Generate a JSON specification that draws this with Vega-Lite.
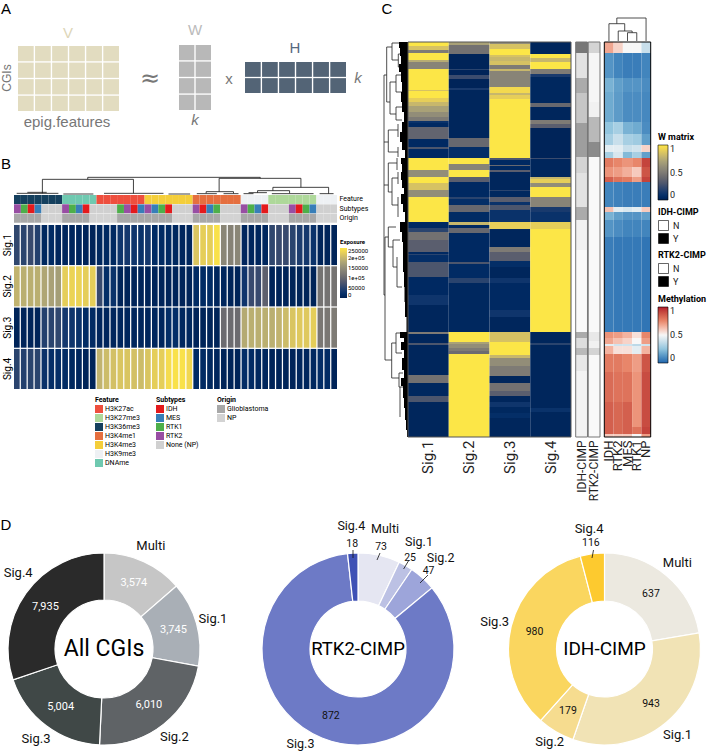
{"$schema":"https://vega.github.io/schema/vega-lite/v6.json","padding":0,"background":"white","spacing":0,"bounds":"flush",
"config":{"view":{"stroke":null},"font":"Roboto","text":{"font":"Roboto"},"axis":{"labelFont":"Roboto","grid":false,"ticks":false,"domain":false,"title":null}},
"datasets":{
"cells":[{"m":"V","col":1,"row":1},{"m":"V","col":2,"row":1},{"m":"V","col":3,"row":1},{"m":"V","col":4,"row":1},{"m":"V","col":5,"row":1},{"m":"V","col":6,"row":1},{"m":"V","col":1,"row":2},{"m":"V","col":2,"row":2},{"m":"V","col":3,"row":2},{"m":"V","col":4,"row":2},{"m":"V","col":5,"row":2},{"m":"V","col":6,"row":2},{"m":"V","col":1,"row":3},{"m":"V","col":2,"row":3},{"m":"V","col":3,"row":3},{"m":"V","col":4,"row":3},{"m":"V","col":5,"row":3},{"m":"V","col":6,"row":3},{"m":"V","col":1,"row":4},{"m":"V","col":2,"row":4},{"m":"V","col":3,"row":4},{"m":"V","col":4,"row":4},{"m":"V","col":5,"row":4},{"m":"V","col":6,"row":4},
{"m":"W","col":1,"row":1},{"m":"W","col":2,"row":1},{"m":"W","col":1,"row":2},{"m":"W","col":2,"row":2},{"m":"W","col":1,"row":3},{"m":"W","col":2,"row":3},{"m":"W","col":1,"row":4},{"m":"W","col":2,"row":4},
{"m":"H","col":1,"row":1},{"m":"H","col":2,"row":1},{"m":"H","col":3,"row":1},{"m":"H","col":4,"row":1},{"m":"H","col":5,"row":1},{"m":"H","col":6,"row":1},{"m":"H","col":1,"row":2},{"m":"H","col":2,"row":2},{"m":"H","col":3,"row":2},{"m":"H","col":4,"row":2},{"m":"H","col":5,"row":2},{"m":"H","col":6,"row":2}],
"bDendro":[{"x":10.73,"x2":35.83,"y":53,"y2":53},{"x":10.73,"x2":10.73,"y":53,"y2":47},{"x":4.13,"x2":17.38,"y":47,"y2":47},{"x":4.13,"x2":4.13,"y":47,"y2":5},{"x":17.38,"x2":17.38,"y":47,"y2":5},{"x":29.85,"x2":41.75,"y":50,"y2":50},{"x":35.83,"x2":35.83,"y":53,"y2":50},{"x":29.85,"x2":29.85,"y":50,"y2":10},{"x":41.75,"x2":41.75,"y":50,"y2":23},{"x":27.96,"x2":31.94,"y":10,"y2":10},{"x":27.96,"x2":27.96,"y":10,"y2":5},{"x":31.94,"x2":31.94,"y":10,"y2":5},{"x":37.67,"x2":45.78,"y":23,"y2":23},{"x":37.67,"x2":37.67,"y":23,"y2":13},{"x":45.78,"x2":45.78,"y":23,"y2":4},{"x":35.44,"x2":40.1,"y":13,"y2":13},{"x":35.44,"x2":35.44,"y":13,"y2":7},{"x":40.1,"x2":40.1,"y":13,"y2":5},{"x":34.13,"x2":36.8,"y":7,"y2":7},{"x":44.47,"x2":46.5,"y":4,"y2":4},{"x":0.39,"x2":6.46,"y":5,"y2":5},{"x":1.94,"x2":4.76,"y":8,"y2":8},{"x":7.18,"x2":11.55,"y":3,"y2":3},{"x":13.1,"x2":21.75,"y":5,"y2":5},{"x":22.48,"x2":25.63,"y":3,"y2":3},{"x":26.6,"x2":29.51,"y":4,"y2":4},{"x":30.49,"x2":32.67,"y":4,"y2":4},{"x":33.4,"x2":34.85,"y":4,"y2":4},{"x":37.52,"x2":43.59,"y":4,"y2":4}],
"samples":[{"col":1,"Feature":"H3K36me3","Subtypes":"RTK2","Origin":"Glioblastoma"},{"col":2,"Feature":"H3K36me3","Subtypes":"RTK1","Origin":"Glioblastoma"},{"col":3,"Feature":"H3K36me3","Subtypes":"IDH","Origin":"Glioblastoma"},{"col":4,"Feature":"H3K36me3","Subtypes":"MES","Origin":"Glioblastoma"},{"col":5,"Feature":"H3K36me3","Subtypes":"None (NP)","Origin":"NP"},{"col":6,"Feature":"H3K36me3","Subtypes":"None (NP)","Origin":"NP"},{"col":7,"Feature":"H3K36me3","Subtypes":"None (NP)","Origin":"NP"},{"col":8,"Feature":"DNAme","Subtypes":"RTK2","Origin":"Glioblastoma"},{"col":9,"Feature":"DNAme","Subtypes":"RTK1","Origin":"Glioblastoma"},{"col":10,"Feature":"DNAme","Subtypes":"MES","Origin":"Glioblastoma"},{"col":11,"Feature":"DNAme","Subtypes":"IDH","Origin":"Glioblastoma"},{"col":12,"Feature":"DNAme","Subtypes":"None (NP)","Origin":"NP"},{"col":13,"Feature":"H3K27ac","Subtypes":"None (NP)","Origin":"NP"},{"col":14,"Feature":"H3K27ac","Subtypes":"None (NP)","Origin":"NP"},{"col":15,"Feature":"H3K27ac","Subtypes":"None (NP)","Origin":"NP"},{"col":16,"Feature":"H3K27ac","Subtypes":"RTK1","Origin":"Glioblastoma"},{"col":17,"Feature":"H3K27ac","Subtypes":"RTK2","Origin":"Glioblastoma"},{"col":18,"Feature":"H3K27ac","Subtypes":"IDH","Origin":"Glioblastoma"},{"col":19,"Feature":"H3K27ac","Subtypes":"MES","Origin":"Glioblastoma"},{"col":20,"Feature":"H3K4me3","Subtypes":"RTK2","Origin":"Glioblastoma"},{"col":21,"Feature":"H3K4me3","Subtypes":"MES","Origin":"Glioblastoma"},{"col":22,"Feature":"H3K4me3","Subtypes":"RTK1","Origin":"Glioblastoma"},{"col":23,"Feature":"H3K4me3","Subtypes":"IDH","Origin":"Glioblastoma"},{"col":24,"Feature":"H3K4me3","Subtypes":"None (NP)","Origin":"NP"},{"col":25,"Feature":"H3K4me3","Subtypes":"None (NP)","Origin":"NP"},{"col":26,"Feature":"H3K4me3","Subtypes":"None (NP)","Origin":"NP"},{"col":27,"Feature":"H3K4me1","Subtypes":"RTK2","Origin":"Glioblastoma"},{"col":28,"Feature":"H3K4me1","Subtypes":"IDH","Origin":"Glioblastoma"},{"col":29,"Feature":"H3K4me1","Subtypes":"MES","Origin":"Glioblastoma"},{"col":30,"Feature":"H3K4me1","Subtypes":"RTK1","Origin":"Glioblastoma"},{"col":31,"Feature":"H3K4me1","Subtypes":"None (NP)","Origin":"NP"},{"col":32,"Feature":"H3K4me1","Subtypes":"None (NP)","Origin":"NP"},{"col":33,"Feature":"H3K4me1","Subtypes":"None (NP)","Origin":"NP"},{"col":34,"Feature":"H3K9me3","Subtypes":"RTK2","Origin":"Glioblastoma"},{"col":35,"Feature":"H3K9me3","Subtypes":"RTK1","Origin":"Glioblastoma"},{"col":36,"Feature":"H3K9me3","Subtypes":"MES","Origin":"Glioblastoma"},{"col":37,"Feature":"H3K9me3","Subtypes":"IDH","Origin":"Glioblastoma"},{"col":38,"Feature":"H3K27me3","Subtypes":"None (NP)","Origin":"NP"},{"col":39,"Feature":"H3K27me3","Subtypes":"None (NP)","Origin":"NP"},{"col":40,"Feature":"H3K27me3","Subtypes":"None (NP)","Origin":"NP"},{"col":41,"Feature":"H3K27me3","Subtypes":"RTK2","Origin":"Glioblastoma"},{"col":42,"Feature":"H3K27me3","Subtypes":"IDH","Origin":"Glioblastoma"},{"col":43,"Feature":"H3K27me3","Subtypes":"RTK1","Origin":"Glioblastoma"},{"col":44,"Feature":"H3K27me3","Subtypes":"MES","Origin":"Glioblastoma"},{"col":45,"Feature":"H3K9me3","Subtypes":"None (NP)","Origin":"NP"},{"col":46,"Feature":"H3K9me3","Subtypes":"None (NP)","Origin":"NP"},{"col":47,"Feature":"H3K9me3","Subtypes":"None (NP)","Origin":"NP"}],
"exposure":[
{"c":1,"s":"Sig.1","v":55000},{"c":2,"s":"Sig.1","v":50000},{"c":3,"s":"Sig.1","v":60000},{"c":4,"s":"Sig.1","v":45000},{"c":5,"s":"Sig.1","v":10000},{"c":6,"s":"Sig.1","v":15000},{"c":7,"s":"Sig.1","v":8000},{"c":8,"s":"Sig.1","v":8000},{"c":9,"s":"Sig.1","v":8000},{"c":10,"s":"Sig.1","v":8000},{"c":11,"s":"Sig.1","v":5000},{"c":12,"s":"Sig.1","v":5000},{"c":13,"s":"Sig.1","v":10000},{"c":14,"s":"Sig.1","v":12000},{"c":15,"s":"Sig.1","v":12000},{"c":16,"s":"Sig.1","v":30000},{"c":17,"s":"Sig.1","v":35000},{"c":18,"s":"Sig.1","v":30000},{"c":19,"s":"Sig.1","v":25000},{"c":20,"s":"Sig.1","v":35000},{"c":21,"s":"Sig.1","v":15000},{"c":22,"s":"Sig.1","v":15000},{"c":23,"s":"Sig.1","v":15000},{"c":24,"s":"Sig.1","v":10000},{"c":25,"s":"Sig.1","v":8000},{"c":26,"s":"Sig.1","v":8000},{"c":27,"s":"Sig.1","v":215000},{"c":28,"s":"Sig.1","v":225000},{"c":29,"s":"Sig.1","v":225000},{"c":30,"s":"Sig.1","v":245000},{"c":31,"s":"Sig.1","v":140000},{"c":32,"s":"Sig.1","v":135000},{"c":33,"s":"Sig.1","v":140000},{"c":34,"s":"Sig.1","v":8000},{"c":35,"s":"Sig.1","v":8000},{"c":36,"s":"Sig.1","v":8000},{"c":37,"s":"Sig.1","v":8000},{"c":38,"s":"Sig.1","v":55000},{"c":39,"s":"Sig.1","v":60000},{"c":40,"s":"Sig.1","v":60000},{"c":41,"s":"Sig.1","v":50000},{"c":42,"s":"Sig.1","v":40000},{"c":43,"s":"Sig.1","v":35000},{"c":44,"s":"Sig.1","v":25000},{"c":45,"s":"Sig.1","v":5000},{"c":46,"s":"Sig.1","v":5000},{"c":47,"s":"Sig.1","v":5000},
{"c":1,"s":"Sig.2","v":195000},{"c":2,"s":"Sig.2","v":190000},{"c":3,"s":"Sig.2","v":190000},{"c":4,"s":"Sig.2","v":190000},{"c":5,"s":"Sig.2","v":180000},{"c":6,"s":"Sig.2","v":175000},{"c":7,"s":"Sig.2","v":170000},{"c":8,"s":"Sig.2","v":225000},{"c":9,"s":"Sig.2","v":230000},{"c":10,"s":"Sig.2","v":230000},{"c":11,"s":"Sig.2","v":225000},{"c":12,"s":"Sig.2","v":225000},{"c":13,"s":"Sig.2","v":60000},{"c":14,"s":"Sig.2","v":20000},{"c":15,"s":"Sig.2","v":25000},{"c":16,"s":"Sig.2","v":5000},{"c":17,"s":"Sig.2","v":5000},{"c":18,"s":"Sig.2","v":5000},{"c":19,"s":"Sig.2","v":5000},{"c":20,"s":"Sig.2","v":5000},{"c":21,"s":"Sig.2","v":5000},{"c":22,"s":"Sig.2","v":5000},{"c":23,"s":"Sig.2","v":5000},{"c":24,"s":"Sig.2","v":5000},{"c":25,"s":"Sig.2","v":5000},{"c":26,"s":"Sig.2","v":5000},{"c":27,"s":"Sig.2","v":15000},{"c":28,"s":"Sig.2","v":15000},{"c":29,"s":"Sig.2","v":15000},{"c":30,"s":"Sig.2","v":8000},{"c":31,"s":"Sig.2","v":8000},{"c":32,"s":"Sig.2","v":5000},{"c":33,"s":"Sig.2","v":5000},{"c":34,"s":"Sig.2","v":30000},{"c":35,"s":"Sig.2","v":60000},{"c":36,"s":"Sig.2","v":60000},{"c":37,"s":"Sig.2","v":90000},{"c":38,"s":"Sig.2","v":5000},{"c":39,"s":"Sig.2","v":5000},{"c":40,"s":"Sig.2","v":5000},{"c":41,"s":"Sig.2","v":5000},{"c":42,"s":"Sig.2","v":5000},{"c":43,"s":"Sig.2","v":5000},{"c":44,"s":"Sig.2","v":5000},{"c":45,"s":"Sig.2","v":115000},{"c":46,"s":"Sig.2","v":115000},{"c":47,"s":"Sig.2","v":115000},
{"c":1,"s":"Sig.3","v":5000},{"c":2,"s":"Sig.3","v":5000},{"c":3,"s":"Sig.3","v":5000},{"c":4,"s":"Sig.3","v":5000},{"c":5,"s":"Sig.3","v":45000},{"c":6,"s":"Sig.3","v":50000},{"c":7,"s":"Sig.3","v":55000},{"c":8,"s":"Sig.3","v":35000},{"c":9,"s":"Sig.3","v":30000},{"c":10,"s":"Sig.3","v":25000},{"c":11,"s":"Sig.3","v":15000},{"c":12,"s":"Sig.3","v":15000},{"c":13,"s":"Sig.3","v":8000},{"c":14,"s":"Sig.3","v":8000},{"c":15,"s":"Sig.3","v":8000},{"c":16,"s":"Sig.3","v":8000},{"c":17,"s":"Sig.3","v":8000},{"c":18,"s":"Sig.3","v":8000},{"c":19,"s":"Sig.3","v":8000},{"c":20,"s":"Sig.3","v":8000},{"c":21,"s":"Sig.3","v":8000},{"c":22,"s":"Sig.3","v":8000},{"c":23,"s":"Sig.3","v":20000},{"c":24,"s":"Sig.3","v":20000},{"c":25,"s":"Sig.3","v":10000},{"c":26,"s":"Sig.3","v":10000},{"c":27,"s":"Sig.3","v":5000},{"c":28,"s":"Sig.3","v":5000},{"c":29,"s":"Sig.3","v":5000},{"c":30,"s":"Sig.3","v":5000},{"c":31,"s":"Sig.3","v":105000},{"c":32,"s":"Sig.3","v":105000},{"c":33,"s":"Sig.3","v":105000},{"c":34,"s":"Sig.3","v":185000},{"c":35,"s":"Sig.3","v":190000},{"c":36,"s":"Sig.3","v":190000},{"c":37,"s":"Sig.3","v":190000},{"c":38,"s":"Sig.3","v":190000},{"c":39,"s":"Sig.3","v":195000},{"c":40,"s":"Sig.3","v":205000},{"c":41,"s":"Sig.3","v":215000},{"c":42,"s":"Sig.3","v":220000},{"c":43,"s":"Sig.3","v":220000},{"c":44,"s":"Sig.3","v":225000},{"c":45,"s":"Sig.3","v":120000},{"c":46,"s":"Sig.3","v":120000},{"c":47,"s":"Sig.3","v":125000},
{"c":1,"s":"Sig.4","v":50000},{"c":2,"s":"Sig.4","v":45000},{"c":3,"s":"Sig.4","v":50000},{"c":4,"s":"Sig.4","v":50000},{"c":5,"s":"Sig.4","v":25000},{"c":6,"s":"Sig.4","v":20000},{"c":7,"s":"Sig.4","v":20000},{"c":8,"s":"Sig.4","v":15000},{"c":9,"s":"Sig.4","v":10000},{"c":10,"s":"Sig.4","v":8000},{"c":11,"s":"Sig.4","v":5000},{"c":12,"s":"Sig.4","v":5000},{"c":13,"s":"Sig.4","v":195000},{"c":14,"s":"Sig.4","v":205000},{"c":15,"s":"Sig.4","v":210000},{"c":16,"s":"Sig.4","v":215000},{"c":17,"s":"Sig.4","v":215000},{"c":18,"s":"Sig.4","v":210000},{"c":19,"s":"Sig.4","v":205000},{"c":20,"s":"Sig.4","v":215000},{"c":21,"s":"Sig.4","v":225000},{"c":22,"s":"Sig.4","v":225000},{"c":23,"s":"Sig.4","v":240000},{"c":24,"s":"Sig.4","v":245000},{"c":25,"s":"Sig.4","v":245000},{"c":26,"s":"Sig.4","v":235000},{"c":27,"s":"Sig.4","v":15000},{"c":28,"s":"Sig.4","v":15000},{"c":29,"s":"Sig.4","v":10000},{"c":30,"s":"Sig.4","v":8000},{"c":31,"s":"Sig.4","v":5000},{"c":32,"s":"Sig.4","v":5000},{"c":33,"s":"Sig.4","v":5000},{"c":34,"s":"Sig.4","v":18000},{"c":35,"s":"Sig.4","v":15000},{"c":36,"s":"Sig.4","v":10000},{"c":37,"s":"Sig.4","v":8000},{"c":38,"s":"Sig.4","v":5000},{"c":39,"s":"Sig.4","v":5000},{"c":40,"s":"Sig.4","v":5000},{"c":41,"s":"Sig.4","v":5000},{"c":42,"s":"Sig.4","v":8000},{"c":43,"s":"Sig.4","v":8000},{"c":44,"s":"Sig.4","v":10000},{"c":45,"s":"Sig.4","v":18000},{"c":46,"s":"Sig.4","v":15000},{"c":47,"s":"Sig.4","v":5000}],
"keys":[{"g":"Feature","t":"H3K27ac","r":1},{"g":"Feature","t":"H3K27me3","r":2},{"g":"Feature","t":"H3K36me3","r":3},{"g":"Feature","t":"H3K4me1","r":4},{"g":"Feature","t":"H3K4me3","r":5},{"g":"Feature","t":"H3K9me3","r":6},{"g":"Feature","t":"DNAme","r":7},{"g":"Subtypes","t":"IDH","r":1},{"g":"Subtypes","t":"MES","r":2},{"g":"Subtypes","t":"RTK1","r":3},{"g":"Subtypes","t":"RTK2","r":4},{"g":"Subtypes","t":"None (NP)","r":5},{"g":"Origin","t":"Glioblastoma","r":1},{"g":"Origin","t":"NP","r":2}],
"w":[
{"c":"Sig.1","a":0,"b":4,"v":1},{"c":"Sig.1","a":4,"b":8,"v":0.85},{"c":"Sig.1","a":8,"b":11,"v":0.5},{"c":"Sig.1","a":11,"b":18,"v":1},{"c":"Sig.1","a":18,"b":20,"v":0.75},{"c":"Sig.1","a":20,"b":27,"v":0.55},{"c":"Sig.1","a":27,"b":48,"v":1},{"c":"Sig.1","a":48,"b":49,"v":0.85},{"c":"Sig.1","a":49,"b":56,"v":1},{"c":"Sig.1","a":56,"b":60,"v":0.9},{"c":"Sig.1","a":60,"b":64,"v":0.8},{"c":"Sig.1","a":64,"b":70,"v":0.7},{"c":"Sig.1","a":70,"b":75,"v":0.6},{"c":"Sig.1","a":75,"b":79,"v":0.5},{"c":"Sig.1","a":79,"b":81,"v":0.1},{"c":"Sig.1","a":81,"b":85,"v":0.05},{"c":"Sig.1","a":85,"b":97,"v":0.38},{"c":"Sig.1","a":97,"b":105,"v":0.05},{"c":"Sig.1","a":105,"b":107,"v":0.3},{"c":"Sig.1","a":107,"b":116,"v":0.05},{"c":"Sig.1","a":116,"b":128,"v":1},{"c":"Sig.1","a":128,"b":135,"v":0.6},{"c":"Sig.1","a":135,"b":141,"v":1},{"c":"Sig.1","a":141,"b":148,"v":0.85},{"c":"Sig.1","a":148,"b":155,"v":0.6},{"c":"Sig.1","a":155,"b":180,"v":1},{"c":"Sig.1","a":180,"b":186,"v":0.05},{"c":"Sig.1","a":186,"b":190,"v":0.2},{"c":"Sig.1","a":190,"b":198,"v":0.45},{"c":"Sig.1","a":198,"b":210,"v":0.35},{"c":"Sig.1","a":210,"b":212,"v":0.05},{"c":"Sig.1","a":212,"b":213,"v":0.2},{"c":"Sig.1","a":213,"b":220,"v":0.08},{"c":"Sig.1","a":220,"b":235,"v":0.3},{"c":"Sig.1","a":235,"b":253,"v":0.05},{"c":"Sig.1","a":253,"b":263,"v":0.12},{"c":"Sig.1","a":263,"b":290,"v":0.03},{"c":"Sig.1","a":290,"b":292,"v":0.5},{"c":"Sig.1","a":292,"b":301,"v":0.03},{"c":"Sig.1","a":301,"b":303,"v":0.3},{"c":"Sig.1","a":303,"b":333,"v":0.03},{"c":"Sig.1","a":333,"b":341,"v":0.45},{"c":"Sig.1","a":341,"b":354,"v":0.04},{"c":"Sig.1","a":354,"b":360,"v":0.3},{"c":"Sig.1","a":360,"b":395,"v":0.03},
{"c":"Sig.2","a":0,"b":3,"v":0.7},{"c":"Sig.2","a":3,"b":12,"v":0.45},{"c":"Sig.2","a":12,"b":27,"v":0.02},{"c":"Sig.2","a":27,"b":28,"v":0.2},{"c":"Sig.2","a":28,"b":33,"v":0.02},{"c":"Sig.2","a":33,"b":37,"v":0.25},{"c":"Sig.2","a":37,"b":46,"v":0.02},{"c":"Sig.2","a":46,"b":48,"v":0.15},{"c":"Sig.2","a":48,"b":96,"v":0.03},{"c":"Sig.2","a":96,"b":105,"v":0.4},{"c":"Sig.2","a":105,"b":116,"v":0.08},{"c":"Sig.2","a":116,"b":122,"v":1},{"c":"Sig.2","a":122,"b":128,"v":0.55},{"c":"Sig.2","a":128,"b":135,"v":1},{"c":"Sig.2","a":135,"b":140,"v":0.35},{"c":"Sig.2","a":140,"b":155,"v":0.05},{"c":"Sig.2","a":155,"b":157,"v":0.2},{"c":"Sig.2","a":157,"b":163,"v":0.08},{"c":"Sig.2","a":163,"b":170,"v":0.4},{"c":"Sig.2","a":170,"b":180,"v":0.06},{"c":"Sig.2","a":180,"b":183,"v":0.8},{"c":"Sig.2","a":183,"b":186,"v":0.05},{"c":"Sig.2","a":186,"b":191,"v":0.4},{"c":"Sig.2","a":191,"b":220,"v":0.05},{"c":"Sig.2","a":220,"b":222,"v":0.3},{"c":"Sig.2","a":222,"b":236,"v":0.06},{"c":"Sig.2","a":236,"b":241,"v":0.2},{"c":"Sig.2","a":241,"b":290,"v":0.04},{"c":"Sig.2","a":290,"b":300,"v":1},{"c":"Sig.2","a":300,"b":302,"v":0.7},{"c":"Sig.2","a":302,"b":306,"v":0.6},{"c":"Sig.2","a":306,"b":309,"v":0.5},{"c":"Sig.2","a":309,"b":312,"v":0.42},{"c":"Sig.2","a":312,"b":395,"v":1},
{"c":"Sig.3","a":0,"b":2,"v":0.6},{"c":"Sig.3","a":2,"b":7,"v":0.85},{"c":"Sig.3","a":7,"b":13,"v":1},{"c":"Sig.3","a":13,"b":15,"v":0.85},{"c":"Sig.3","a":15,"b":19,"v":0.8},{"c":"Sig.3","a":19,"b":23,"v":0.85},{"c":"Sig.3","a":23,"b":27,"v":0.5},{"c":"Sig.3","a":27,"b":29,"v":0.8},{"c":"Sig.3","a":29,"b":45,"v":0.55},{"c":"Sig.3","a":45,"b":51,"v":0.95},{"c":"Sig.3","a":51,"b":53,"v":0.8},{"c":"Sig.3","a":53,"b":57,"v":0.9},{"c":"Sig.3","a":57,"b":116,"v":1},{"c":"Sig.3","a":116,"b":118,"v":0.3},{"c":"Sig.3","a":118,"b":123,"v":0.05},{"c":"Sig.3","a":123,"b":124,"v":0.4},{"c":"Sig.3","a":124,"b":128,"v":0.05},{"c":"Sig.3","a":128,"b":130,"v":0.35},{"c":"Sig.3","a":130,"b":148,"v":0.03},{"c":"Sig.3","a":148,"b":149,"v":0.2},{"c":"Sig.3","a":149,"b":155,"v":0.04},{"c":"Sig.3","a":155,"b":160,"v":0.35},{"c":"Sig.3","a":160,"b":163,"v":0.1},{"c":"Sig.3","a":163,"b":168,"v":0.3},{"c":"Sig.3","a":168,"b":180,"v":0.1},{"c":"Sig.3","a":180,"b":187,"v":0.9},{"c":"Sig.3","a":187,"b":205,"v":0.03},{"c":"Sig.3","a":205,"b":210,"v":0.5},{"c":"Sig.3","a":210,"b":219,"v":0.35},{"c":"Sig.3","a":219,"b":225,"v":0.08},{"c":"Sig.3","a":225,"b":236,"v":0.03},{"c":"Sig.3","a":236,"b":241,"v":0.12},{"c":"Sig.3","a":241,"b":268,"v":0.05},{"c":"Sig.3","a":268,"b":275,"v":0.12},{"c":"Sig.3","a":275,"b":290,"v":0.03},{"c":"Sig.3","a":290,"b":300,"v":0.85},{"c":"Sig.3","a":300,"b":313,"v":1},{"c":"Sig.3","a":313,"b":316,"v":0.8},{"c":"Sig.3","a":316,"b":324,"v":0.6},{"c":"Sig.3","a":324,"b":334,"v":0.5},{"c":"Sig.3","a":334,"b":341,"v":0.03},{"c":"Sig.3","a":341,"b":349,"v":0.45},{"c":"Sig.3","a":349,"b":354,"v":0.35},{"c":"Sig.3","a":354,"b":360,"v":0.03},{"c":"Sig.3","a":360,"b":365,"v":0.12},{"c":"Sig.3","a":365,"b":371,"v":0.04},{"c":"Sig.3","a":371,"b":376,"v":0.08},{"c":"Sig.3","a":376,"b":395,"v":0.03},
{"c":"Sig.4","a":0,"b":12,"v":0.03},{"c":"Sig.4","a":12,"b":16,"v":1},{"c":"Sig.4","a":16,"b":20,"v":0.8},{"c":"Sig.4","a":20,"b":27,"v":1},{"c":"Sig.4","a":27,"b":32,"v":0.5},{"c":"Sig.4","a":32,"b":35,"v":0.15},{"c":"Sig.4","a":35,"b":61,"v":0.04},{"c":"Sig.4","a":61,"b":65,"v":0.4},{"c":"Sig.4","a":65,"b":78,"v":0.03},{"c":"Sig.4","a":78,"b":82,"v":0.5},{"c":"Sig.4","a":82,"b":86,"v":0.35},{"c":"Sig.4","a":86,"b":116,"v":0.02},{"c":"Sig.4","a":116,"b":117,"v":0.25},{"c":"Sig.4","a":117,"b":135,"v":0.03},{"c":"Sig.4","a":135,"b":137,"v":0.8},{"c":"Sig.4","a":137,"b":141,"v":0.9},{"c":"Sig.4","a":141,"b":145,"v":0.6},{"c":"Sig.4","a":145,"b":155,"v":1},{"c":"Sig.4","a":155,"b":165,"v":0.55},{"c":"Sig.4","a":165,"b":170,"v":0.15},{"c":"Sig.4","a":170,"b":180,"v":0.1},{"c":"Sig.4","a":180,"b":187,"v":0.9},{"c":"Sig.4","a":187,"b":290,"v":1},{"c":"Sig.4","a":290,"b":301,"v":0.03},{"c":"Sig.4","a":301,"b":303,"v":0.2},{"c":"Sig.4","a":303,"b":366,"v":0.03},{"c":"Sig.4","a":366,"b":370,"v":0.1},{"c":"Sig.4","a":370,"b":395,"v":0.03}],
"cimp":[
{"c":"IDH-CIMP","a":0,"b":11,"v":0.5},{"c":"IDH-CIMP","a":11,"b":36,"v":0.1},{"c":"IDH-CIMP","a":36,"b":51,"v":0.3},{"c":"IDH-CIMP","a":51,"b":81,"v":0.2},{"c":"IDH-CIMP","a":81,"b":115,"v":0.35},{"c":"IDH-CIMP","a":115,"b":131,"v":0.15},{"c":"IDH-CIMP","a":131,"b":165,"v":0.1},{"c":"IDH-CIMP","a":165,"b":178,"v":0.3},{"c":"IDH-CIMP","a":178,"b":208,"v":0.05},{"c":"IDH-CIMP","a":208,"b":290,"v":0.02},{"c":"IDH-CIMP","a":290,"b":296,"v":0.3},{"c":"IDH-CIMP","a":296,"b":306,"v":0.12},{"c":"IDH-CIMP","a":306,"b":313,"v":0.25},{"c":"IDH-CIMP","a":313,"b":329,"v":0.08},{"c":"IDH-CIMP","a":329,"b":395,"v":0.04},
{"c":"RTK2-CIMP","a":0,"b":11,"v":0.15},{"c":"RTK2-CIMP","a":11,"b":60,"v":0.03},{"c":"RTK2-CIMP","a":60,"b":75,"v":0.05},{"c":"RTK2-CIMP","a":75,"b":100,"v":0.25},{"c":"RTK2-CIMP","a":100,"b":115,"v":0.42},{"c":"RTK2-CIMP","a":115,"b":290,"v":0.02},{"c":"RTK2-CIMP","a":290,"b":299,"v":0.08},{"c":"RTK2-CIMP","a":299,"b":306,"v":0.05},{"c":"RTK2-CIMP","a":306,"b":313,"v":0.15},{"c":"RTK2-CIMP","a":313,"b":395,"v":0.02}],
"meth":[
{"s":"IDH","a":0,"b":11,"v":0.68},{"s":"RTK2","a":0,"b":11,"v":0.58},{"s":"MES","a":0,"b":11,"v":0.5},{"s":"RTK1","a":0,"b":11,"v":0.5},{"s":"NP","a":0,"b":11,"v":0.38},
{"s":"IDH","a":11,"b":36,"v":0.12},{"s":"RTK2","a":11,"b":36,"v":0.08},{"s":"MES","a":11,"b":36,"v":0.06},{"s":"RTK1","a":11,"b":36,"v":0.06},{"s":"NP","a":11,"b":36,"v":0.08},
{"s":"IDH","a":36,"b":50,"v":0.2},{"s":"RTK2","a":36,"b":50,"v":0.15},{"s":"MES","a":36,"b":50,"v":0.12},{"s":"RTK1","a":36,"b":50,"v":0.12},{"s":"NP","a":36,"b":50,"v":0.1},
{"s":"IDH","a":50,"b":80,"v":0.18},{"s":"RTK2","a":50,"b":80,"v":0.14},{"s":"MES","a":50,"b":80,"v":0.1},{"s":"RTK1","a":50,"b":80,"v":0.1},{"s":"NP","a":50,"b":80,"v":0.09},
{"s":"IDH","a":80,"b":92,"v":0.25},{"s":"RTK2","a":80,"b":92,"v":0.3},{"s":"MES","a":80,"b":92,"v":0.2},{"s":"RTK1","a":80,"b":92,"v":0.18},{"s":"NP","a":80,"b":92,"v":0.1},
{"s":"IDH","a":92,"b":103,"v":0.3},{"s":"RTK2","a":92,"b":103,"v":0.38},{"s":"MES","a":92,"b":103,"v":0.3},{"s":"RTK1","a":92,"b":103,"v":0.28},{"s":"NP","a":92,"b":103,"v":0.15},
{"s":"IDH","a":103,"b":110,"v":0.45},{"s":"RTK2","a":103,"b":110,"v":0.45},{"s":"MES","a":103,"b":110,"v":0.38},{"s":"RTK1","a":103,"b":110,"v":0.4},{"s":"NP","a":103,"b":110,"v":0.58},
{"s":"IDH","a":110,"b":116,"v":0.3},{"s":"RTK2","a":110,"b":116,"v":0.42},{"s":"MES","a":110,"b":116,"v":0.22},{"s":"RTK1","a":110,"b":116,"v":0.3},{"s":"NP","a":110,"b":116,"v":0.15},
{"s":"IDH","a":116,"b":125,"v":0.78},{"s":"RTK2","a":116,"b":125,"v":0.75},{"s":"MES","a":116,"b":125,"v":0.72},{"s":"RTK1","a":116,"b":125,"v":0.75},{"s":"NP","a":116,"b":125,"v":0.92},
{"s":"IDH","a":125,"b":135,"v":0.72},{"s":"RTK2","a":125,"b":135,"v":0.7},{"s":"MES","a":125,"b":135,"v":0.66},{"s":"RTK1","a":125,"b":135,"v":0.6},{"s":"NP","a":125,"b":135,"v":0.88},
{"s":"IDH","a":135,"b":140,"v":0.85},{"s":"RTK2","a":135,"b":140,"v":0.8},{"s":"MES","a":135,"b":140,"v":0.78},{"s":"RTK1","a":135,"b":140,"v":0.7},{"s":"NP","a":135,"b":140,"v":0.92},
{"s":"IDH","a":140,"b":165,"v":0.08},{"s":"RTK2","a":140,"b":165,"v":0.07},{"s":"MES","a":140,"b":165,"v":0.06},{"s":"RTK1","a":140,"b":165,"v":0.06},{"s":"NP","a":140,"b":165,"v":0.06},
{"s":"IDH","a":165,"b":170,"v":0.62},{"s":"RTK2","a":165,"b":170,"v":0.45},{"s":"MES","a":165,"b":170,"v":0.42},{"s":"RTK1","a":165,"b":170,"v":0.45},{"s":"NP","a":165,"b":170,"v":0.6},
{"s":"IDH","a":170,"b":178,"v":0.2},{"s":"RTK2","a":170,"b":178,"v":0.15},{"s":"MES","a":170,"b":178,"v":0.12},{"s":"RTK1","a":170,"b":178,"v":0.12},{"s":"NP","a":170,"b":178,"v":0.15},
{"s":"IDH","a":178,"b":195,"v":0.12},{"s":"RTK2","a":178,"b":195,"v":0.1},{"s":"MES","a":178,"b":195,"v":0.08},{"s":"RTK1","a":178,"b":195,"v":0.08},{"s":"NP","a":178,"b":195,"v":0.08},
{"s":"IDH","a":195,"b":290,"v":0.06},{"s":"RTK2","a":195,"b":290,"v":0.05},{"s":"MES","a":195,"b":290,"v":0.05},{"s":"RTK1","a":195,"b":290,"v":0.05},{"s":"NP","a":195,"b":290,"v":0.04},
{"s":"IDH","a":290,"b":296,"v":0.72},{"s":"RTK2","a":290,"b":296,"v":0.7},{"s":"MES","a":290,"b":296,"v":0.65},{"s":"RTK1","a":290,"b":296,"v":0.55},{"s":"NP","a":290,"b":296,"v":0.75},
{"s":"IDH","a":296,"b":302,"v":0.68},{"s":"RTK2","a":296,"b":302,"v":0.62},{"s":"MES","a":296,"b":302,"v":0.58},{"s":"RTK1","a":296,"b":302,"v":0.5},{"s":"NP","a":296,"b":302,"v":0.7},
{"s":"IDH","a":302,"b":304,"v":0.45},{"s":"RTK2","a":302,"b":304,"v":0.4},{"s":"MES","a":302,"b":304,"v":0.4},{"s":"RTK1","a":302,"b":304,"v":0.35},{"s":"NP","a":302,"b":304,"v":0.4},
{"s":"IDH","a":304,"b":312,"v":0.65},{"s":"RTK2","a":304,"b":312,"v":0.55},{"s":"MES","a":304,"b":312,"v":0.55},{"s":"RTK1","a":304,"b":312,"v":0.45},{"s":"NP","a":304,"b":312,"v":0.65},
{"s":"IDH","a":312,"b":330,"v":0.78},{"s":"RTK2","a":312,"b":330,"v":0.78},{"s":"MES","a":312,"b":330,"v":0.75},{"s":"RTK1","a":312,"b":330,"v":0.7},{"s":"NP","a":312,"b":330,"v":0.88},
{"s":"IDH","a":330,"b":360,"v":0.82},{"s":"RTK2","a":330,"b":360,"v":0.8},{"s":"MES","a":330,"b":360,"v":0.8},{"s":"RTK1","a":330,"b":360,"v":0.72},{"s":"NP","a":330,"b":360,"v":0.9},
{"s":"IDH","a":360,"b":385,"v":0.85},{"s":"RTK2","a":360,"b":385,"v":0.83},{"s":"MES","a":360,"b":385,"v":0.85},{"s":"RTK1","a":360,"b":385,"v":0.72},{"s":"NP","a":360,"b":385,"v":0.9},
{"s":"IDH","a":385,"b":392,"v":0.85},{"s":"RTK2","a":385,"b":392,"v":0.83},{"s":"MES","a":385,"b":392,"v":0.85},{"s":"RTK1","a":385,"b":392,"v":0.8},{"s":"NP","a":385,"b":392,"v":0.92},
{"s":"IDH","a":392,"b":395,"v":0.6},{"s":"RTK2","a":392,"b":395,"v":0.6},{"s":"MES","a":392,"b":395,"v":0.6},{"s":"RTK1","a":392,"b":395,"v":0.5},{"s":"NP","a":392,"b":395,"v":0.7}],
"cDendro":[{"d":24,"d2":24,"r":33,"r2":253},{"d":24,"d2":21.3,"r":33,"r2":33},{"d":21.3,"d2":21.3,"r":5,"r2":60},{"d":21.3,"d2":16,"r":5,"r2":5},{"d":16,"d2":16,"r":1,"r2":18},{"d":16,"d2":8,"r":1,"r2":1},{"d":16,"d2":9.7,"r":18,"r2":18},{"d":9.7,"d2":9.7,"r":12,"r2":25},{"d":9.7,"d2":5,"r":12,"r2":12},{"d":9.7,"d2":5,"r":25,"r2":25},{"d":21.3,"d2":18,"r":60,"r2":60},{"d":18,"d2":18,"r":40,"r2":72},{"d":18,"d2":12,"r":40,"r2":40},{"d":12,"d2":12,"r":33,"r2":50},{"d":12,"d2":6,"r":33,"r2":33},{"d":12,"d2":6,"r":50,"r2":50},{"d":18,"d2":12,"r":72,"r2":72},{"d":12,"d2":12,"r":65,"r2":78},{"d":12,"d2":6,"r":65,"r2":65},{"d":12,"d2":6,"r":78,"r2":78},{"d":24,"d2":19.7,"r":100,"r2":100},{"d":19.7,"d2":19.7,"r":88,"r2":110},{"d":19.7,"d2":10,"r":88,"r2":88},{"d":19.7,"d2":10,"r":110,"r2":110},{"d":10,"d2":10,"r":82,"r2":95},{"d":10,"d2":10,"r":105,"r2":115},{"d":24,"d2":19.7,"r":143,"r2":143},{"d":19.7,"d2":19.7,"r":121,"r2":150},{"d":19.7,"d2":11,"r":121,"r2":121},{"d":11,"d2":11,"r":116,"r2":128},{"d":19.7,"d2":16,"r":150,"r2":150},{"d":16,"d2":16,"r":136,"r2":163},{"d":16,"d2":10,"r":136,"r2":136},{"d":16,"d2":10,"r":163,"r2":163},{"d":10,"d2":10,"r":130,"r2":142},{"d":10,"d2":10,"r":155,"r2":175},{"d":24,"d2":23,"r":253,"r2":253},{"d":23,"d2":23,"r":195,"r2":318},{"d":23,"d2":19.7,"r":195,"r2":195},{"d":19.7,"d2":19.7,"r":185,"r2":205},{"d":19.7,"d2":12,"r":185,"r2":185},{"d":19.7,"d2":15,"r":205,"r2":205},{"d":15,"d2":15,"r":198,"r2":225},{"d":15,"d2":8,"r":198,"r2":198},{"d":15,"d2":11,"r":225,"r2":225},{"d":11,"d2":11,"r":215,"r2":245},{"d":11,"d2":6,"r":245,"r2":245},{"d":23,"d2":16.3,"r":318,"r2":318},{"d":16.3,"d2":16.3,"r":301,"r2":336},{"d":16.3,"d2":12,"r":301,"r2":301},{"d":12,"d2":12,"r":291,"r2":311},{"d":12,"d2":6,"r":291,"r2":291},{"d":12,"d2":6,"r":311,"r2":311},{"d":16.3,"d2":9,"r":336,"r2":336},{"d":9,"d2":9,"r":331,"r2":345},{"d":9,"d2":5,"r":331,"r2":331},{"d":9,"d2":5,"r":345,"r2":345},{"d":8,"d2":8,"r":345,"r2":375}],
"wedge":[{"a":0,"b":6,"d":9},{"a":6,"b":14,"d":8},{"a":14,"b":22,"d":7},{"a":22,"b":30,"d":9},{"a":30,"b":40,"d":7},{"a":40,"b":50,"d":6},{"a":50,"b":60,"d":7},{"a":60,"b":70,"d":6},{"a":70,"b":80,"d":4},{"a":80,"b":90,"d":6},{"a":90,"b":100,"d":8},{"a":100,"b":108,"d":6},{"a":108,"b":116,"d":3},{"a":116,"b":122,"d":7},{"a":122,"b":130,"d":6},{"a":130,"b":138,"d":7},{"a":138,"b":146,"d":6},{"a":146,"b":152,"d":4},{"a":152,"b":162,"d":7},{"a":162,"b":170,"d":5},{"a":170,"b":180,"d":3},{"a":180,"b":190,"d":8},{"a":190,"b":200,"d":6},{"a":200,"b":215,"d":5},{"a":215,"b":230,"d":5},{"a":230,"b":245,"d":4},{"a":245,"b":260,"d":3.5},{"a":260,"b":275,"d":3},{"a":275,"b":290,"d":1.5},{"a":290,"b":296,"d":8},{"a":296,"b":300,"d":4},{"a":300,"b":308,"d":7},{"a":308,"b":316,"d":4},{"a":316,"b":328,"d":6},{"a":328,"b":336,"d":4},{"a":336,"b":344,"d":7},{"a":344,"b":356,"d":5},{"a":356,"b":366,"d":4},{"a":366,"b":378,"d":3},{"a":378,"b":388,"d":2},{"a":388,"b":395,"d":1}],
"mDendro":[{"x":1.35,"x2":4.5,"h":23,"h2":23},{"x":1.35,"x2":1.35,"h":23,"h2":17.3},{"x":4.5,"x2":4.5,"h":23,"h2":0},{"x":0.5,"x2":2.2,"h":17.3,"h2":17.3},{"x":0.5,"x2":0.5,"h":17.3,"h2":0},{"x":2.2,"x2":2.2,"h":17.3,"h2":10},{"x":1.5,"x2":3,"h":10,"h2":10},{"x":1.5,"x2":1.5,"h":10,"h2":0},{"x":3,"x2":3,"h":10,"h2":8.3},{"x":2.5,"x2":3.5,"h":8.3,"h2":8.3},{"x":2.5,"x2":2.5,"h":8.3,"h2":0},{"x":3.5,"x2":3.5,"h":8.3,"h2":0}],
"d1":[{"sig":"Multi","n":3574,"i":1},{"sig":"Sig.1","n":3745,"i":2},{"sig":"Sig.2","n":6010,"i":3},{"sig":"Sig.3","n":5004,"i":4},{"sig":"Sig.4","n":7935,"i":5}],
"d2":[{"sig":"Multi","n":73,"i":1},{"sig":"Sig.1","n":25,"i":2},{"sig":"Sig.2","n":47,"i":3},{"sig":"Sig.3","n":872,"i":4},{"sig":"Sig.4","n":18,"i":5}],
"d3":[{"sig":"Multi","n":637,"i":1},{"sig":"Sig.1","n":943,"i":2},{"sig":"Sig.2","n":179,"i":3},{"sig":"Sig.3","n":980,"i":4},{"sig":"Sig.4","n":116,"i":5}]
},
"vconcat":[
{"width":708,"height":552,
"resolve":{"scale":{"x":"independent","y":"independent","color":"independent","size":"independent"}},
"layer":[
{"data":{"name":"cells"},"transform":[{"filter":"datum.m==='V'"}],"mark":{"type":"rect","color":"#e2dcc0"},"encoding":{"x":{"field":"col","type":"ordinal","axis":null,"scale":{"range":[18,119],"paddingInner":0.08,"paddingOuter":0}},"y":{"field":"row","type":"ordinal","axis":null,"scale":{"range":[46,111],"paddingInner":0.08,"paddingOuter":0}}}},
{"data":{"name":"cells"},"transform":[{"filter":"datum.m==='W'"}],"mark":{"type":"rect","color":"#b8b8b8"},"encoding":{"x":{"field":"col","type":"ordinal","axis":null,"scale":{"range":[179,211],"paddingInner":0.08,"paddingOuter":0}},"y":{"field":"row","type":"ordinal","axis":null,"scale":{"range":[45,110],"paddingInner":0.08,"paddingOuter":0}}}},
{"data":{"name":"cells"},"transform":[{"filter":"datum.m==='H'"}],"mark":{"type":"rect","color":"#536476"},"encoding":{"x":{"field":"col","type":"ordinal","axis":null,"scale":{"range":[245,346],"paddingInner":0.08,"paddingOuter":0}},"y":{"field":"row","type":"ordinal","axis":null,"scale":{"range":[62,93],"paddingInner":0.08,"paddingOuter":0}}}},
{"data":{"values":[{"t":"A","x":6,"y":9},{"t":"B","x":6,"y":164},{"t":"C","x":387,"y":9},{"t":"D","x":6,"y":525},{"t":"V","x":68,"y":33},{"t":"W","x":195,"y":30},{"t":"H","x":295,"y":48},{"t":"x","x":229,"y":79},{"t":"epig.features","x":67,"y":122}]},
"mark":{"type":"text","font":"Liberation Sans","baseline":"middle","align":"center"},
"encoding":{"x":{"field":"x","type":"quantitative","axis":null,"scale":{"domain":[0,708],"nice":false,"zero":false}},"y":{"field":"y","type":"quantitative","axis":null,"scale":{"domain":[552,0],"nice":false,"zero":false}},"text":{"field":"t"},
"color":{"field":"t","type":"nominal","legend":null,"scale":{"domain":["A","B","C","D","V","W","H","x","epig.features"],"range":["#000000","#000000","#000000","#000000","#ddd6b8","#bbbbbb","#566a7f","#777777","#777777"]}},
"size":{"field":"t","type":"ordinal","legend":null,"scale":{"domain":["A","B","C","D","V","W","H","x","epig.features"],"range":[15,15,15,15,21,21,21,25,12]}}}},
{"data":{"values":[{"t":"≈","x":150,"y":79}]},"mark":{"type":"text","font":"DejaVu Sans","fontSize":24,"color":"#777777","baseline":"middle","align":"center"},"encoding":{"x":{"field":"x","type":"quantitative","axis":null,"scale":{"domain":[0,708],"nice":false,"zero":false}},"y":{"field":"y","type":"quantitative","axis":null,"scale":{"domain":[552,0],"nice":false,"zero":false}},"text":{"field":"t"}}},
{"data":{"values":[{"t":"k","x":195,"y":120},{"t":"k","x":358,"y":78}]},"mark":{"type":"text","font":"Liberation Sans","fontStyle":"italic","fontSize":15,"color":"#777777","baseline":"middle","align":"center"},"encoding":{"x":{"field":"x","type":"quantitative","axis":null,"scale":{"domain":[0,708],"nice":false,"zero":false}},"y":{"field":"y","type":"quantitative","axis":null,"scale":{"domain":[552,0],"nice":false,"zero":false}},"text":{"field":"t"}}},
{"data":{"values":[{"t":"CGIs","x":7,"y":78}]},"mark":{"type":"text","font":"Liberation Sans","angle":270,"fontSize":12,"color":"#777777","baseline":"middle","align":"center"},"encoding":{"x":{"field":"x","type":"quantitative","axis":null,"scale":{"domain":[0,708],"nice":false,"zero":false}},"y":{"field":"y","type":"quantitative","axis":null,"scale":{"domain":[552,0],"nice":false,"zero":false}},"text":{"field":"t"}}},
{"data":{"name":"bDendro"},"mark":{"type":"rule","color":"#111111","strokeWidth":0.8},"encoding":{"x":{"field":"x","type":"quantitative","axis":null,"scale":{"domain":[0,47],"range":[14,337],"nice":false,"zero":false}},"x2":{"field":"x2"},"y":{"field":"y","type":"quantitative","axis":null,"scale":{"domain":[0,57],"range":[195,176],"nice":false,"zero":false}},"y2":{"field":"y2"}}},
{"data":{"name":"samples"},"transform":[{"fold":["Feature","Subtypes","Origin"],"as":["track","level"]}],"mark":{"type":"rect"},"encoding":{"x":{"field":"col","type":"ordinal","axis":null,"scale":{"range":[14,337],"paddingInner":0,"paddingOuter":0}},"y":{"field":"track","type":"nominal","scale":{"domain":["Feature","Subtypes","Origin"],"range":[195,222.7],"paddingInner":0.04,"paddingOuter":0},"axis":{"orient":"right","offset":-371,"labelFontSize":7,"labelColor":"#000000","labelPadding":2}},
"color":{"field":"level","type":"nominal","legend":null,"scale":{"domain":["H3K27ac","H3K27me3","H3K36me3","H3K4me1","H3K4me3","H3K9me3","DNAme","IDH","MES","RTK1","RTK2","None (NP)","Glioblastoma","NP"],"range":["#ee4f3e","#aed89a","#15405e","#e56f3f","#f4ce3a","#eef1f4","#6fc9b0","#e41a1c","#377eb8","#4daf4a","#984ea3","#d0d0d0","#a8a8a8","#d3d3d3"]}}}},
{"data":{"name":"exposure"},"mark":{"type":"rect"},"encoding":{"x":{"field":"c","type":"ordinal","axis":null,"scale":{"range":[14,337],"paddingInner":0.18,"paddingOuter":0}},"y":{"field":"s","type":"nominal","scale":{"domain":["Sig.1","Sig.2","Sig.3","Sig.4"],"range":[225,389],"paddingInner":0.03,"paddingOuter":0},"axis":{"orient":"left","offset":-14,"labelAngle":270,"labelAlign":"center","labelBaseline":"bottom","labelFontSize":10,"labelColor":"#000000","labelPadding":2}},
"color":{"field":"v","type":"quantitative","scale":{"scheme":"cividis","domain":[0,250000],"nice":false},"legend":{"orient":"none","legendX":340,"legendY":239,"title":"Exposure","titleFont":"Roboto","titleFontSize":6,"titleFontWeight":"bold","titleColor":"#000000","titlePadding":3,"labelFont":"Roboto","labelFontSize":6,"labelColor":"#000000","labelOffset":1,"gradientLength":50,"gradientThickness":7,"values":[0,50000,100000,150000,200000,250000],"labelExpr":"datum.value===200000?'2e+05':datum.value===100000?'1e+05':''+datum.value"}}}},
{"data":{"name":"keys"},"mark":{"type":"square","size":64,"opacity":1},"encoding":{"x":{"field":"g","type":"nominal","axis":null,"scale":{"type":"point","domain":["Feature","Subtypes","Origin"],"range":[99,221],"padding":0}},"y":{"field":"r","type":"ordinal","axis":null,"scale":{"type":"point","domain":[0,1,2,3,4,5,6,7],"range":[400,463],"padding":0}},
"color":{"field":"t","type":"nominal","legend":null,"scale":{"domain":["H3K27ac","H3K27me3","H3K36me3","H3K4me1","H3K4me3","H3K9me3","DNAme","IDH","MES","RTK1","RTK2","None (NP)","Glioblastoma","NP"],"range":["#ee4f3e","#aed89a","#15405e","#e56f3f","#f4ce3a","#eef1f4","#6fc9b0","#e41a1c","#377eb8","#4daf4a","#984ea3","#d0d0d0","#a8a8a8","#d3d3d3"]}}}},
{"data":{"name":"keys"},"mark":{"type":"text","align":"left","dx":6,"fontSize":7,"color":"#000000"},"encoding":{"x":{"field":"g","type":"nominal","axis":null,"scale":{"type":"point","domain":["Feature","Subtypes","Origin"],"range":[99,221],"padding":0}},"y":{"field":"r","type":"ordinal","axis":null,"scale":{"type":"point","domain":[0,1,2,3,4,5,6,7],"range":[400,463],"padding":0}},"text":{"field":"t"}}},
{"data":{"values":[{"g":"Feature","r":0},{"g":"Subtypes","r":0},{"g":"Origin","r":0}]},"mark":{"type":"text","align":"left","dx":-4,"fontSize":7,"fontWeight":"bold","color":"#000000"},"encoding":{"x":{"field":"g","type":"nominal","axis":null,"scale":{"type":"point","domain":["Feature","Subtypes","Origin"],"range":[99,221],"padding":0}},"y":{"field":"r","type":"ordinal","axis":null,"scale":{"type":"point","domain":[0,1,2,3,4,5,6,7],"range":[400,463],"padding":0}},"text":{"field":"g"}}},
{"data":{"name":"cDendro"},"mark":{"type":"rule","color":"#222222","strokeWidth":0.8},"encoding":{"x":{"field":"d","type":"quantitative","axis":null,"scale":{"domain":[0,24],"range":[408,384],"nice":false,"zero":false}},"x2":{"field":"d2"},"y":{"field":"r","type":"quantitative","axis":null,"scale":{"domain":[0,395],"range":[42,437],"nice":false,"zero":false}},"y2":{"field":"r2"}}},
{"data":{"name":"wedge"},"mark":{"type":"rect","color":"#000000"},"encoding":{"x":{"field":"d","type":"quantitative","axis":null,"scale":{"domain":[0,24],"range":[408,384],"nice":false,"zero":false}},"x2":{"datum":0},"y":{"field":"a","type":"quantitative","axis":null,"scale":{"domain":[0,395],"range":[42,437],"nice":false,"zero":false}},"y2":{"field":"b"}}},
{"data":{"name":"w"},"mark":{"type":"rect"},"encoding":{"x":{"field":"c","type":"nominal","scale":{"domain":["Sig.1","Sig.2","Sig.3","Sig.4"],"range":[408,571],"paddingInner":0,"paddingOuter":0},"axis":{"orient":"bottom","offset":-112,"labelAngle":270,"labelAlign":"right","labelBaseline":"middle","labelFontSize":15,"labelColor":"#222222","labelPadding":0}},"y":{"field":"a","type":"quantitative","axis":null,"scale":{"domain":[0,395],"range":[42,437],"nice":false,"zero":false}},"y2":{"field":"b"},
"color":{"field":"v","type":"quantitative","scale":{"scheme":"cividis","domain":[0,1],"nice":false},"legend":{"orient":"none","legendX":658,"legendY":133,"title":"W matrix","titleFont":"Roboto","titleFontSize":9,"titleFontWeight":"bold","titleColor":"#000000","titlePadding":3,"labelFont":"Roboto","labelFontSize":9,"labelColor":"#222222","gradientLength":55,"gradientThickness":10,"gradientStrokeColor":"#000000","gradientStrokeWidth":0.6,"values":[0,0.5,1],"labelExpr":"''+datum.value"}}}},
{"data":{"values":[{"c":"W","a":0,"b":395}]},"mark":{"type":"rect","fillOpacity":0,"stroke":"#555555","strokeWidth":1},"encoding":{"x":{"field":"c","type":"nominal","axis":null,"scale":{"range":[408,571],"paddingInner":0,"paddingOuter":0}},"y":{"field":"a","type":"quantitative","axis":null,"scale":{"domain":[0,395],"range":[42,437],"nice":false,"zero":false}},"y2":{"field":"b"}}},
{"data":{"name":"cimp"},"mark":{"type":"rect"},"encoding":{"x":{"field":"c","type":"nominal","scale":{"domain":["IDH-CIMP","RTK2-CIMP"],"range":[575.7,600],"paddingInner":0.06,"paddingOuter":0},"axis":{"orient":"bottom","offset":-112,"labelAngle":270,"labelAlign":"right","labelBaseline":"middle","labelFontSize":12,"labelColor":"#222222","labelPadding":0}},"y":{"field":"a","type":"quantitative","axis":null,"scale":{"domain":[0,395],"range":[42,437],"nice":false,"zero":false}},"y2":{"field":"b"},"color":{"field":"v","type":"quantitative","legend":null,"scale":{"domain":[0,1],"range":["#ffffff","#000000"],"nice":false}}}},
{"data":{"values":[{"c":"IDH-CIMP","a":0,"b":395},{"c":"RTK2-CIMP","a":0,"b":395}]},"mark":{"type":"rect","fillOpacity":0,"stroke":"#777777","strokeWidth":1},"encoding":{"x":{"field":"c","type":"nominal","axis":null,"scale":{"domain":["IDH-CIMP","RTK2-CIMP"],"range":[575.7,600],"paddingInner":0.06,"paddingOuter":0}},"y":{"field":"a","type":"quantitative","axis":null,"scale":{"domain":[0,395],"range":[42,437],"nice":false,"zero":false}},"y2":{"field":"b"}}},
{"data":{"name":"meth"},"mark":{"type":"rect"},"encoding":{"x":{"field":"s","type":"nominal","scale":{"domain":["IDH","RTK2","MES","RTK1","NP"],"range":[604.3,650.7],"paddingInner":0,"paddingOuter":0},"axis":{"orient":"bottom","offset":-112,"labelAngle":270,"labelAlign":"right","labelBaseline":"middle","labelFontSize":13,"labelColor":"#222222","labelPadding":0}},"y":{"field":"a","type":"quantitative","axis":null,"scale":{"domain":[0,395],"range":[42,437],"nice":false,"zero":false}},"y2":{"field":"b"},
"color":{"field":"v","type":"quantitative","scale":{"domain":[0,0.25,0.5,0.75,1],"range":["#2166ac","#92c5de","#f7f7f7","#e8866a","#b2182b"],"nice":false},"legend":{"orient":"none","legendX":658,"legendY":295,"title":"Methylation","titleFont":"Roboto","titleFontSize":9,"titleFontWeight":"bold","titleColor":"#000000","titlePadding":3,"labelFont":"Roboto","labelFontSize":9,"labelColor":"#222222","gradientLength":56,"gradientThickness":10,"gradientStrokeColor":"#000000","gradientStrokeWidth":0.6,"values":[0,0.5,1],"labelExpr":"''+datum.value"}}}},
{"data":{"values":[{"c":"M","a":0,"b":395}]},"mark":{"type":"rect","fillOpacity":0,"stroke":"#000000","strokeWidth":1},"encoding":{"x":{"field":"c","type":"nominal","axis":null,"scale":{"range":[604.3,650.7],"paddingInner":0,"paddingOuter":0}},"y":{"field":"a","type":"quantitative","axis":null,"scale":{"domain":[0,395],"range":[42,437],"nice":false,"zero":false}},"y2":{"field":"b"}}},
{"data":{"name":"mDendro"},"mark":{"type":"rule","color":"#222222","strokeWidth":0.8},"encoding":{"x":{"field":"x","type":"quantitative","axis":null,"scale":{"domain":[0,5],"range":[604.3,650.7],"nice":false,"zero":false}},"x2":{"field":"x2"},"y":{"field":"h","type":"quantitative","axis":null,"scale":{"domain":[0,24],"range":[41,17],"nice":false,"zero":false}},"y2":{"field":"h2"}}},
{"data":{"values":[{"k":"N"},{"k":"Y"}]},"mark":{"type":"rect","opacity":0},"encoding":{"color":{"field":"k","type":"nominal","scale":{"domain":["N","Y"],"range":["#ffffff","#000000"]},"legend":{"orient":"none","legendX":658,"legendY":208,"title":"IDH-CIMP","titleFont":"Roboto","titleFontSize":9,"titleFontWeight":"bold","titleColor":"#000000","titlePadding":3,"labelFont":"Roboto","labelFontSize":9,"labelColor":"#222222","symbolType":"square","symbolSize":100,"symbolOpacity":1,"symbolStrokeColor":"#000000","symbolStrokeWidth":0.6,"rowPadding":0}}}},
{"data":{"values":[{"k":"N"},{"k":"Y"}]},"mark":{"type":"rect","opacity":0},"encoding":{"color":{"field":"k","type":"nominal","scale":{"domain":["N","Y"],"range":["#ffffff","#000000"]},"legend":{"orient":"none","legendX":658,"legendY":251,"title":"RTK2-CIMP","titleFont":"Roboto","titleFontSize":9,"titleFontWeight":"bold","titleColor":"#000000","titlePadding":3,"labelFont":"Roboto","labelFontSize":9,"labelColor":"#222222","symbolType":"square","symbolSize":100,"symbolOpacity":1,"symbolStrokeColor":"#000000","symbolStrokeWidth":0.6,"rowPadding":0}}}}
]},
{"spacing":0,"bounds":"flush","resolve":{"scale":{"color":"independent","theta":"independent"}},"hconcat":[
{"width":208,"height":194,"data":{"name":"d1"},"encoding":{"theta":{"field":"n","type":"quantitative","stack":true},"order":{"field":"i","type":"ordinal"},"detail":{"field":"sig"}},
"layer":[
{"mark":{"type":"arc","radius":96,"radius2":49,"stroke":"white","strokeWidth":1.2},"encoding":{"color":{"field":"sig","type":"nominal","legend":null,"scale":{"domain":["Multi","Sig.1","Sig.2","Sig.3","Sig.4"],"range":["#c6c6c6","#a9afb6","#5f6366","#404847","#2a2a2a"]}}}},
{"mark":{"type":"text","radius":72,"fontSize":11,"color":"#ffffff"},"encoding":{"text":{"field":"n","format":","}}},
{"mark":{"type":"text","radius":113,"fontSize":13,"color":"#111111"},"encoding":{"text":{"condition":{"test":"datum.sig==='Sig.4'","value":""},"field":"sig"}}},
{"mark":{"type":"text","radius":113,"dx":6,"dy":-10,"fontSize":13,"color":"#111111"},"encoding":{"text":{"condition":{"test":"datum.sig!=='Sig.4'","value":""},"field":"sig"}}},
{"data":{"values":[{"t":"All CGIs"}]},"mark":{"type":"text","fontSize":23,"color":"#000000"},"encoding":{"theta":null,"order":null,"detail":null,"text":{"field":"t"}}}
]},
{"width":300,"height":194,"data":{"name":"d2"},"encoding":{"theta":{"field":"n","type":"quantitative","stack":true},"order":{"field":"i","type":"ordinal"},"detail":{"field":"sig"}},
"layer":[
{"mark":{"type":"arc","radius":96,"radius2":48,"stroke":"white","strokeWidth":1.2},"encoding":{"color":{"field":"sig","type":"nominal","legend":null,"scale":{"domain":["Multi","Sig.1","Sig.2","Sig.3","Sig.4"],"range":["#e5e6f2","#bcc1e4","#9da5da","#6d7ac6","#3f51b5"]}}}},
{"mark":{"type":"text","radius":72,"fontSize":10.5,"color":"#111111"},"encoding":{"text":{"condition":{"test":"datum.sig!=='Sig.3'","value":""},"field":"n"}}},
{"mark":{"type":"text","radius":105,"fontSize":10.5,"color":"#111111"},"encoding":{"text":{"condition":{"test":"datum.sig==='Sig.3'","value":""},"field":"n"}}},
{"mark":{"type":"text","radius":123,"fontSize":12.5,"color":"#111111"},"encoding":{"text":{"condition":{"test":"datum.sig==='Sig.3'","value":""},"field":"sig"}}},
{"mark":{"type":"text","radius":113,"dx":-15,"dy":-10,"fontSize":12.5,"color":"#111111"},"encoding":{"text":{"condition":{"test":"datum.sig!=='Sig.3'","value":""},"field":"sig"}}},
{"data":{"values":[{"l":"Sig.4","x":-5,"y":99,"x2":-5,"y2":91},{"l":"Multi","x":22,"y":96,"x2":19,"y2":89},{"l":"Sig.1","x":51,"y":89,"x2":45.6,"y2":80},{"l":"Sig.2","x":70,"y":74,"x2":62,"y2":66}]},"mark":{"type":"rule","color":"#111111","strokeWidth":0.8},"encoding":{"theta":null,"order":null,"detail":null,"x":{"field":"x","type":"quantitative","axis":null,"scale":{"domain":[-150,150],"nice":false,"zero":false}},"x2":{"field":"x2"},"y":{"field":"y","type":"quantitative","axis":null,"scale":{"domain":[-97,97],"nice":false,"zero":false}},"y2":{"field":"y2"}}},
{"data":{"values":[{"t":"RTK2-CIMP"}]},"mark":{"type":"text","fontSize":18.5,"color":"#000000"},"encoding":{"theta":null,"order":null,"detail":null,"text":{"field":"t"}}}
]},
{"width":193,"height":194,"data":{"name":"d3"},"encoding":{"theta":{"field":"n","type":"quantitative","stack":true},"order":{"field":"i","type":"ordinal"},"detail":{"field":"sig"}},
"layer":[
{"mark":{"type":"arc","radius":96,"radius2":48,"stroke":"white","strokeWidth":1.2},"encoding":{"color":{"field":"sig","type":"nominal","legend":null,"scale":{"domain":["Multi","Sig.1","Sig.2","Sig.3","Sig.4"],"range":["#ece9e0","#f1e3b5","#f6dc8f","#fad65f","#fdca2f"]}}}},
{"mark":{"type":"text","radius":72,"fontSize":10.5,"color":"#111111"},"encoding":{"text":{"condition":{"test":"datum.sig==='Sig.4'","value":""},"field":"n"}}},
{"mark":{"type":"text","radius":107,"fontSize":10.5,"color":"#111111"},"encoding":{"text":{"condition":{"test":"datum.sig!=='Sig.4'","value":""},"field":"n"}}},
{"mark":{"type":"text","radius":113,"fontSize":13,"color":"#111111"},"encoding":{"text":{"condition":{"test":"datum.sig==='Sig.4'||datum.sig==='Sig.2'","value":""},"field":"sig"}}},
{"mark":{"type":"text","radius":108,"fontSize":13,"color":"#111111"},"encoding":{"text":{"condition":{"test":"datum.sig!=='Sig.2'","value":""},"field":"sig"}}},
{"mark":{"type":"text","radius":121,"fontSize":13,"color":"#111111"},"encoding":{"text":{"condition":{"test":"datum.sig!=='Sig.4'","value":""},"field":"sig"}}},
{"data":{"values":[{"l":"Sig.4","x":-11,"y":99,"x2":-12.5,"y2":91}]},"mark":{"type":"rule","color":"#111111","strokeWidth":0.8},"encoding":{"theta":null,"order":null,"detail":null,"x":{"field":"x","type":"quantitative","axis":null,"scale":{"domain":[-96.5,96.5],"nice":false,"zero":false}},"x2":{"field":"x2"},"y":{"field":"y","type":"quantitative","axis":null,"scale":{"domain":[-97,97],"nice":false,"zero":false}},"y2":{"field":"y2"}}},
{"data":{"values":[{"t":"IDH-CIMP"}]},"mark":{"type":"text","fontSize":19,"color":"#000000"},"encoding":{"theta":null,"order":null,"detail":null,"text":{"field":"t"}}}
]}
]}
]}
